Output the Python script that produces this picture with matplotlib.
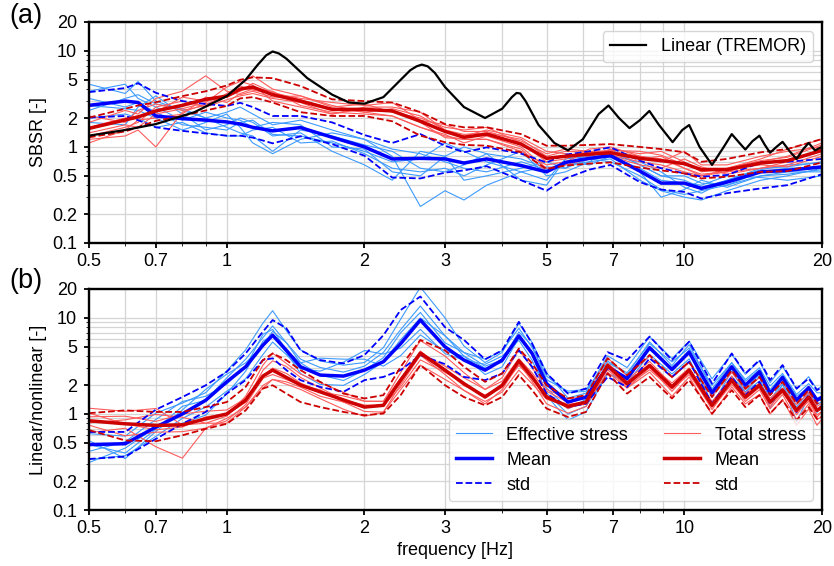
import matplotlib
matplotlib.use("Agg")
import matplotlib.pyplot as plt
import numpy as np
from matplotlib.ticker import NullFormatter, LogLocator

plt.rcParams['font.family'] = ['Liberation Sans', 'DejaVu Sans']

# ---------------- panel (a): SBSR ----------------
f_lin = [0.5, 0.6, 0.7, 0.85, 1.0, 1.1, 1.17, 1.22, 1.26, 1.3, 1.35, 1.5, 1.7, 1.85, 2.0, 2.2,
         2.4, 2.52, 2.6, 2.67, 2.75, 2.85, 3.0, 3.3, 3.67, 4.0, 4.2, 4.3, 4.38, 4.5, 4.8, 5.2,
         5.57, 6.0, 6.5, 6.83, 7.2, 7.59, 8.0, 8.39, 8.8, 9.43, 9.9, 10.25, 10.8, 11.5, 12.2,
         12.7, 13.2, 13.6, 14.1, 14.6, 15.0, 15.4, 15.9, 16.4, 17.0, 17.6, 18.2, 18.7, 19.3, 20.0]
tremor = [1.31, 1.5, 1.73, 2.3, 3.38, 5.0, 7.2, 9.0, 9.85, 9.4, 8.3, 5.2, 3.5, 2.9, 2.82, 3.3,
          5.0, 6.3, 6.9, 7.2, 6.9, 5.9, 4.2, 2.6, 2.0, 2.5, 3.3, 3.65, 3.6, 3.0, 1.7, 1.1,
          0.92, 1.2, 2.2, 2.7, 2.0, 1.57, 1.9, 2.37, 1.7, 1.12, 1.5, 1.69, 1.0, 0.65, 1.0,
          1.36, 1.1, 0.94, 1.15, 1.31, 1.05, 0.87, 1.0, 1.13, 0.9, 0.75, 0.95, 1.10, 0.92, 1.0]

fa = [0.5, 0.6, 0.64, 0.7, 0.8, 0.9, 1.0, 1.07, 1.14, 1.26, 1.45, 1.7, 2.0, 2.3, 2.65, 3.0,
      3.3, 3.7, 4.4, 5.0, 5.5, 6.2, 6.9, 8.0, 8.9, 10.0, 10.9, 12.4, 14.7, 16.8, 20.0]

eff_mean_a = [2.71, 3.0, 2.9, 2.1, 1.97, 1.9, 1.82, 1.73, 1.6, 1.47, 1.59, 1.26, 1.0, 0.75, 0.76,
              0.75, 0.68, 0.75, 0.64, 0.55, 0.69, 0.76, 0.81, 0.56, 0.42, 0.42, 0.37, 0.43,
              0.55, 0.57, 0.62]
eff_up_a = [3.72, 4.1, 4.6, 3.66, 3.0, 2.8, 2.67, 2.88, 2.6, 2.1, 2.1, 1.8, 1.33, 1.1, 1.36,
            1.03, 0.88, 0.99, 0.85, 0.69, 0.83, 0.9, 0.99, 0.72, 0.6, 0.53, 0.49, 0.51, 0.69,
            0.70, 0.75]
eff_lo_a = [2.02, 2.1, 1.9, 1.6, 1.47, 1.38, 1.31, 1.31, 1.25, 1.09, 1.29, 1.07, 0.81, 0.48,
            0.47, 0.54, 0.57, 0.63, 0.45, 0.35, 0.47, 0.58, 0.65, 0.43, 0.36, 0.34, 0.29,
            0.33, 0.37, 0.40, 0.52]
tot_mean_a = [1.56, 1.91, 2.05, 2.37, 2.71, 3.13, 3.38, 4.0, 4.2, 3.5, 3.0, 2.46, 2.46, 2.37,
              1.85, 1.45, 1.26, 1.36, 1.07, 0.76, 0.80, 0.84, 0.87, 0.76, 0.72, 0.67, 0.58,
              0.58, 0.68, 0.72, 0.92]
tot_up_a = [2.02, 2.5, 2.7, 2.92, 3.38, 3.8, 4.36, 5.0, 5.3, 5.2, 4.3, 3.13, 3.0, 2.9, 2.3,
            1.73, 1.6, 1.6, 1.36, 1.03, 1.03, 1.05, 1.07, 1.0, 0.95, 0.88, 0.70, 0.75, 0.88,
            0.95, 1.21]
tot_lo_a = [1.26, 1.45, 1.6, 1.87, 2.1, 2.4, 2.67, 3.2, 3.3, 2.9, 2.3, 2.1, 2.1, 1.85, 1.31,
            1.12, 1.05, 1.03, 0.88, 0.59, 0.64, 0.67, 0.69, 0.61, 0.57, 0.53, 0.47, 0.49,
            0.55, 0.56, 0.69]

eff_rec_a = [
    [4.5, 3.6, 4.8, 3.0, 2.4, 2.0, 2.3, 2.6, 2.2, 1.7, 1.9, 1.5, 1.2, 0.8, 0.24, 0.35, 0.28, 0.4, 0.55, 0.45, 0.75, 0.8, 0.9, 0.65, 0.5, 0.45, 0.38, 0.45, 0.6, 0.62, 0.7],
    [3.2, 2.6, 2.9, 2.3, 1.7, 1.6, 1.5, 1.8, 1.9, 1.35, 1.3, 1.1, 0.9, 0.7, 0.75, 1.1, 0.9, 0.7, 0.55, 0.62, 0.6, 0.75, 0.7, 0.5, 0.36, 0.32, 0.35, 0.4, 0.5, 0.55, 0.55],
    [2.4, 3.2, 3.5, 2.8, 2.5, 2.0, 1.6, 1.4, 1.3, 0.9, 1.5, 1.3, 1.05, 0.9, 0.6, 0.55, 0.65, 0.85, 0.75, 0.6, 0.65, 0.7, 0.95, 0.65, 0.5, 0.5, 0.42, 0.4, 0.55, 0.6, 0.62],
    [2.0, 2.2, 2.0, 1.6, 1.8, 1.4, 1.3, 1.3, 1.5, 1.6, 1.1, 1.15, 0.85, 0.6, 0.55, 0.6, 0.5, 0.65, 0.9, 0.5, 0.55, 0.7, 0.75, 0.45, 0.35, 0.3, 0.28, 0.35, 0.45, 0.5, 0.6],
    [3.8, 4.5, 3.2, 2.6, 1.9, 2.3, 2.0, 1.9, 1.6, 1.8, 1.7, 1.0, 0.95, 0.55, 0.5, 0.8, 1.0, 0.85, 0.45, 0.4, 0.75, 0.85, 0.78, 0.6, 0.45, 0.42, 0.4, 0.5, 0.48, 0.45, 0.5],
    [2.7, 2.5, 2.4, 2.0, 1.5, 1.8, 2.2, 1.6, 1.1, 0.85, 1.2, 1.4, 1.2, 0.95, 0.85, 0.7, 0.6, 0.55, 0.7, 0.58, 0.7, 0.65, 0.8, 0.7, 0.55, 0.38, 0.33, 0.45, 0.58, 0.65, 0.68],
    [1.8, 1.7, 2.6, 3.4, 2.2, 1.5, 1.7, 2.0, 1.8, 1.3, 1.4, 0.9, 0.65, 0.45, 0.9, 0.8, 0.45, 0.5, 0.6, 0.7, 0.6, 0.9, 0.85, 0.55, 0.3, 0.36, 0.45, 0.38, 0.5, 0.52, 0.58],
]
tot_rec_a = [
    [1.2, 1.3, 1.5, 1.0, 2.3, 2.8, 3.3, 4.5, 5.5, 4.0, 3.4, 2.6, 2.8, 2.3, 2.0, 1.6, 1.5, 1.6, 1.1, 0.7, 0.75, 0.95, 1.0, 0.8, 0.75, 0.6, 0.5, 0.55, 0.7, 0.8, 1.1],
    [1.8, 2.4, 2.2, 3.2, 3.8, 5.5, 3.8, 3.5, 3.8, 3.3, 3.4, 2.7, 2.3, 2.1, 1.6, 1.3, 1.2, 1.2, 0.95, 0.55, 0.7, 0.9, 0.8, 0.65, 0.6, 0.75, 0.62, 0.52, 0.6, 0.65, 0.85],
    [1.4, 1.7, 1.6, 2.2, 2.5, 2.9, 4.2, 4.8, 4.4, 3.0, 2.6, 2.2, 2.6, 2.6, 2.3, 1.5, 1.3, 1.5, 1.25, 0.9, 0.85, 0.8, 0.95, 0.85, 0.9, 0.7, 0.55, 0.6, 0.75, 0.95, 1.2],
    [1.1, 1.5, 1.9, 2.0, 2.2, 3.3, 2.9, 3.6, 4.0, 3.8, 2.7, 2.3, 2.2, 2.1, 1.6, 1.35, 1.1, 1.3, 1.0, 0.6, 0.65, 0.75, 0.82, 0.7, 0.65, 0.55, 0.5, 0.58, 0.65, 0.62, 0.8],
    [2.1, 1.8, 2.4, 2.8, 2.4, 2.7, 3.6, 4.3, 3.9, 3.6, 3.2, 2.9, 2.7, 2.9, 1.9, 1.7, 1.45, 1.45, 1.15, 0.85, 0.95, 0.9, 0.9, 0.8, 0.7, 0.9, 0.65, 0.65, 0.8, 0.9, 1.0],
    [1.3, 1.6, 1.8, 2.6, 3.0, 2.6, 3.1, 3.4, 3.6, 3.2, 2.9, 2.2, 2.5, 2.4, 1.8, 1.25, 1.2, 1.2, 0.9, 0.65, 0.7, 0.75, 0.85, 0.75, 0.8, 0.6, 0.52, 0.55, 0.6, 0.7, 0.9],
    [1.6, 2.0, 2.1, 2.3, 3.3, 3.0, 3.3, 3.8, 4.6, 3.7, 3.1, 2.5, 2.3, 2.5, 2.1, 1.5, 1.35, 1.4, 1.2, 0.8, 0.9, 0.88, 0.92, 0.9, 0.82, 0.65, 0.6, 0.6, 0.72, 0.78, 1.05],
]

# ---------------- panel (b): linear / nonlinear ----------------
fb = [0.5, 0.6, 0.7, 0.8, 0.9, 1.0, 1.1, 1.2, 1.26, 1.35, 1.45, 1.6, 1.8, 2.0, 2.2, 2.4, 2.65,
      3.0, 3.3, 3.67, 4.0, 4.35, 4.65, 5.0, 5.57, 6.1, 6.8, 7.5, 8.4, 9.4, 10.25, 11.5, 12.7,
      13.6, 14.6, 15.4, 16.4, 17.6, 18.7, 19.5, 20.0]

eff_mean_b = [0.48, 0.49, 0.73, 1.0, 1.39, 2.16, 3.1, 5.2, 6.6, 4.6, 3.1, 2.54, 2.48, 2.86, 3.5,
              5.4, 9.5, 5.0, 3.64, 2.86, 3.64, 6.5, 4.27, 2.07, 1.33, 1.5, 3.1, 2.34, 4.9, 2.9,
              4.4, 1.66, 3.1, 1.99, 2.75, 1.63, 2.4, 1.39, 1.88, 1.39, 1.5]
eff_up_b = [0.65, 0.65, 1.11, 1.5, 1.99, 2.75, 4.27, 7.2, 9.5, 7.8, 4.6, 3.64, 3.36, 4.1, 6.6,
            12.1, 16.7, 8.0, 5.9, 3.7, 4.6, 9.1, 5.4, 2.64, 1.63, 1.84, 4.4, 3.64, 6.4, 3.64,
            5.66, 2.07, 4.27, 2.64, 3.64, 2.25, 3.23, 1.84, 2.34, 1.77, 1.91]
eff_lo_b = [0.34, 0.36, 0.55, 0.79, 1.05, 1.63, 2.25, 3.64, 3.8, 2.86, 2.25, 1.91, 1.70, 2.25,
            2.43, 2.86, 4.1, 3.3, 2.43, 2.25, 2.64, 4.6, 3.1, 1.63, 1.18, 1.28, 2.43, 1.91,
            3.8, 2.43, 3.5, 1.28, 2.43, 1.57, 2.16, 1.28, 1.84, 1.05, 1.57, 1.09, 1.23]
tot_mean_b = [0.85, 0.79, 0.76, 0.77, 0.89, 1.0, 1.39, 2.48, 2.86, 2.4, 2.0, 1.7, 1.4, 1.18,
              1.23, 2.25, 4.3, 2.86, 2.07, 1.5, 1.99, 3.58, 2.43, 1.5, 1.2, 1.33, 3.2, 2.07,
              3.2, 1.91, 2.86, 1.23, 2.25, 1.5, 1.99, 1.33, 1.77, 1.09, 1.5, 1.09, 1.18]
tot_up_b = [1.02, 1.09, 1.05, 1.05, 1.18, 1.33, 1.91, 3.64, 4.27, 3.64, 2.86, 2.16, 1.63, 1.45,
            1.57, 3.1, 5.9, 4.6, 3.1, 2.16, 2.64, 4.8, 3.36, 1.99, 1.45, 1.57, 3.8, 2.54, 4.1,
            2.43, 3.5, 1.5, 2.86, 1.84, 2.43, 1.57, 2.16, 1.28, 1.77, 1.28, 1.39]
tot_lo_b = [0.68, 0.53, 0.52, 0.60, 0.70, 0.79, 1.09, 1.84, 1.99, 1.63, 1.33, 1.18, 1.05, 0.97,
            1.01, 1.57, 3.23, 1.99, 1.5, 1.23, 1.5, 2.54, 1.77, 1.14, 0.93, 1.05, 2.64, 1.63,
            2.43, 1.45, 2.25, 1.01, 1.77, 1.18, 1.57, 1.01, 1.39, 0.86, 1.18, 0.89, 0.93]

# single records, as ratio to the mean curve
eff_ratio_b = [
    [1.3, 1.2, 1.4, 1.3, 1.2, 1.3, 1.5, 1.7, 1.8, 1.6, 1.5, 1.4, 1.3, 1.2, 1.4, 1.8, 2.2, 2.0, 1.4, 1.2, 1.2, 1.35, 1.3, 1.3, 1.1, 1.1, 1.3, 1.3, 1.3, 1.3, 1.3, 1.4, 1.35, 1.3, 1.3, 1.3, 1.3, 1.3, 1.3, 1.3, 1.3],
    [0.7, 0.75, 0.8, 0.9, 0.85, 0.8, 0.75, 0.8, 0.85, 0.9, 0.95, 1.1, 1.4, 1.6, 1.2, 0.9, 0.8, 0.85, 1.0, 1.15, 1.1, 0.9, 0.85, 0.8, 0.75, 0.8, 0.85, 0.9, 0.85, 0.9, 0.85, 0.75, 0.8, 0.85, 0.8, 0.8, 0.85, 0.8, 0.85, 0.75, 0.8],
    [1.1, 0.7, 0.9, 1.1, 1.3, 1.2, 1.1, 1.0, 1.1, 1.2, 1.1, 1.0, 0.9, 1.0, 1.1, 1.3, 1.2, 1.1, 1.2, 1.1, 1.0, 1.1, 1.2, 1.1, 1.3, 1.2, 1.1, 1.15, 1.1, 1.2, 1.1, 1.2, 1.1, 1.15, 1.1, 1.2, 1.1, 1.15, 1.1, 1.2, 1.1],
    [0.65, 0.9, 1.0, 0.8, 0.7, 0.75, 0.9, 1.1, 1.0, 0.95, 0.85, 0.8, 0.8, 0.9, 1.0, 1.1, 1.05, 1.3, 1.1, 0.9, 0.85, 0.95, 1.0, 0.9, 0.85, 0.95, 1.0, 1.0, 0.95, 1.05, 1.0, 0.9, 0.95, 0.9, 0.95, 0.85, 0.9, 0.85, 0.9, 0.9, 0.9],
    [0.85, 1.05, 1.2, 1.35, 1.1, 0.95, 1.0, 1.3, 1.15, 1.0, 1.1, 1.5, 1.5, 1.3, 0.9, 0.75, 0.7, 0.9, 1.1, 1.05, 0.95, 1.0, 1.0, 0.75, 0.65, 0.7, 0.85, 0.95, 1.0, 1.0, 1.05, 0.75, 0.9, 0.85, 0.9, 0.7, 0.85, 0.6, 0.8, 0.75, 0.8],
    [1.0, 0.8, 0.95, 1.2, 1.0, 1.1, 1.2, 1.2, 1.25, 1.2, 1.2, 1.2, 1.1, 1.1, 1.25, 1.4, 1.4, 1.3, 1.2, 1.3, 1.25, 1.2, 1.15, 1.2, 1.25, 1.15, 1.15, 1.1, 1.15, 1.1, 1.2, 1.1, 1.1, 1.1, 1.05, 1.1, 1.05, 1.1, 1.0, 1.05, 1.0],
]
tot_ratio_b = [
    [1.35, 1.35, 1.5, 1.0, 0.9, 0.95, 1.1, 1.3, 1.5, 1.4, 1.3, 1.25, 1.2, 1.15, 1.1, 1.2, 1.35, 1.4, 1.3, 1.2, 1.2, 1.3, 1.25, 1.2, 1.2, 1.15, 1.2, 1.2, 1.25, 1.25, 1.2, 1.25, 1.2, 1.2, 1.2, 1.25, 1.2, 1.25, 1.2, 1.25, 1.2],
    [0.75, 0.9, 0.6, 0.45, 0.8, 0.9, 0.85, 0.8, 0.8, 0.85, 0.9, 0.85, 0.8, 0.8, 0.85, 0.8, 0.75, 0.8, 0.85, 0.9, 0.85, 0.8, 0.85, 0.95, 1.0, 0.95, 0.85, 0.9, 0.85, 0.8, 0.85, 0.8, 0.85, 0.85, 0.8, 0.75, 0.8, 0.7, 0.75, 0.7, 0.75],
    [1.1, 1.2, 1.1, 1.3, 1.2, 1.1, 1.05, 1.0, 1.05, 1.1, 1.05, 1.0, 1.1, 1.15, 1.1, 1.05, 1.0, 1.1, 1.15, 1.2, 1.1, 1.05, 1.1, 1.15, 1.1, 1.1, 1.0, 1.05, 1.0, 1.1, 1.05, 1.1, 1.05, 1.1, 1.05, 1.1, 1.05, 1.15, 1.1, 1.1, 1.1],
    [0.9, 0.75, 0.85, 0.85, 0.8, 0.85, 0.9, 0.95, 0.9, 0.95, 1.0, 1.05, 0.95, 0.9, 0.85, 0.9, 0.95, 0.9, 0.85, 0.85, 0.9, 0.95, 0.9, 0.85, 0.85, 0.9, 0.95, 0.9, 0.95, 0.9, 0.95, 0.9, 0.95, 0.9, 0.9, 0.85, 0.9, 0.8, 0.85, 0.8, 0.8],
    [1.2, 1.0, 0.9, 0.95, 1.05, 1.0, 0.95, 1.15, 1.25, 1.3, 1.2, 1.1, 1.0, 1.05, 1.0, 0.95, 1.05, 1.0, 0.95, 1.05, 1.0, 0.9, 1.0, 1.05, 0.95, 1.0, 1.05, 1.1, 1.1, 1.05, 1.0, 1.05, 1.1, 1.0, 1.0, 0.95, 1.0, 0.9, 0.95, 0.85, 0.9],
    [0.95, 1.1, 1.3, 1.2, 0.9, 0.8, 0.85, 0.75, 0.8, 0.9, 0.95, 0.9, 0.95, 1.0, 1.0, 0.85, 0.85, 0.95, 1.0, 1.0, 0.95, 0.9, 0.95, 1.0, 1.05, 1.0, 0.9, 0.95, 0.9, 0.95, 0.9, 0.95, 0.9, 0.95, 0.95, 0.9, 0.95, 0.95, 0.9, 0.9, 0.9],
]

xticks = [0.5, 0.7, 1, 2, 3, 5, 7, 10, 20]
xticklabels = ["0.5", "0.7", "1", "2", "3", "5", "7", "10", "20"]
yticks = [0.1, 0.2, 0.5, 1, 2, 5, 10, 20]
yticklabels = ["0.1", "0.2", "0.5", "1", "2", "5", "10", "20"]

c_eff_thin, c_eff = "#3d9bff", "#0000ff"
c_tot_thin, c_tot = "#ff5c5c", "#cc0000"
FS = 13

fig = plt.figure(figsize=(8.34, 5.66), dpi=100)
ax1 = fig.add_axes([0.1067, 0.5707, 0.8789, 0.3905])
ax2 = fig.add_axes([0.1067, 0.0989, 0.8789, 0.3905])


def style(ax):
    ax.set_xscale("log")
    ax.set_yscale("log")
    ax.set_xlim(0.5, 20)
    ax.set_ylim(0.1, 20)
    ax.set_xticks(xticks, xticklabels)
    ax.set_yticks(yticks, yticklabels)
    ax.xaxis.set_minor_locator(LogLocator(subs=np.arange(2, 10)))
    ax.yaxis.set_minor_locator(LogLocator(subs=np.arange(2, 10)))
    ax.xaxis.set_minor_formatter(NullFormatter())
    ax.yaxis.set_minor_formatter(NullFormatter())
    ax.grid(True, which="both", color="#d5d5d5", lw=0.9)
    ax.set_axisbelow(True)
    ax.tick_params(labelsize=FS, width=1.3)
    ax.tick_params(axis="y", pad=5)
    for s in ax.spines.values():
        s.set_linewidth(1.7)


# panel (a)
for rec in eff_rec_a:
    ax1.plot(fa, rec, color=c_eff_thin, lw=0.8)
for rec in tot_rec_a:
    ax1.plot(fa, rec, color=c_tot_thin, lw=0.8)
ax1.plot(fa, eff_up_a, "--", color=c_eff, lw=1.3)
ax1.plot(fa, eff_lo_a, "--", color=c_eff, lw=1.3)
ax1.plot(fa, eff_mean_a, color=c_eff, lw=2.5)
ax1.plot(fa, tot_up_a, "--", color=c_tot, lw=1.3)
ax1.plot(fa, tot_lo_a, "--", color=c_tot, lw=1.3)
ax1.plot(fa, tot_mean_a, color=c_tot, lw=2.5)
ax1.plot(f_lin, tremor, color="black", lw=1.6, label="Linear (TREMOR)")
style(ax1)
ax1.set_ylabel("SBSR [-]", fontsize=FS)
ax1.legend(loc="upper right", fontsize=FS)

# panel (b)
for r in eff_ratio_b:
    ax2.plot(fb, np.array(eff_mean_b) * np.array(r), color=c_eff_thin, lw=0.8)
for r in tot_ratio_b:
    ax2.plot(fb, np.array(tot_mean_b) * np.array(r), color=c_tot_thin, lw=0.8)
ax2.plot(fb, eff_up_b, "--", color=c_eff, lw=1.3)
ax2.plot(fb, eff_lo_b, "--", color=c_eff, lw=1.3)
ax2.plot(fb, eff_mean_b, color=c_eff, lw=2.5)
ax2.plot(fb, tot_up_b, "--", color=c_tot, lw=1.3)
ax2.plot(fb, tot_lo_b, "--", color=c_tot, lw=1.3)
ax2.plot(fb, tot_mean_b, color=c_tot, lw=2.5)
style(ax2)
ax2.set_ylabel("Linear/nonlinear [-]", fontsize=FS)
ax2.set_xlabel("frequency [Hz]", fontsize=FS)

h = [
    plt.Line2D([], [], color=c_eff_thin, lw=0.8),
    plt.Line2D([], [], color=c_eff, lw=2.5),
    plt.Line2D([], [], color=c_eff, lw=1.3, ls="--"),
    plt.Line2D([], [], color=c_tot_thin, lw=0.8),
    plt.Line2D([], [], color=c_tot, lw=2.5),
    plt.Line2D([], [], color=c_tot, lw=1.3, ls="--"),
]
lab = ["Effective stress", "Mean", "std", "Total stress", "Mean", "std"]
ax2.legend(h, lab, loc="lower right", ncol=2, fontsize=FS, columnspacing=2.0,
           labelspacing=0.45)

fig.text(0.031, 0.972, "(a)", fontsize=19.5, va="center", ha="center")
fig.text(0.031, 0.503, "(b)", fontsize=19.5, va="center", ha="center")

fig.savefig("out.png", dpi=100)
